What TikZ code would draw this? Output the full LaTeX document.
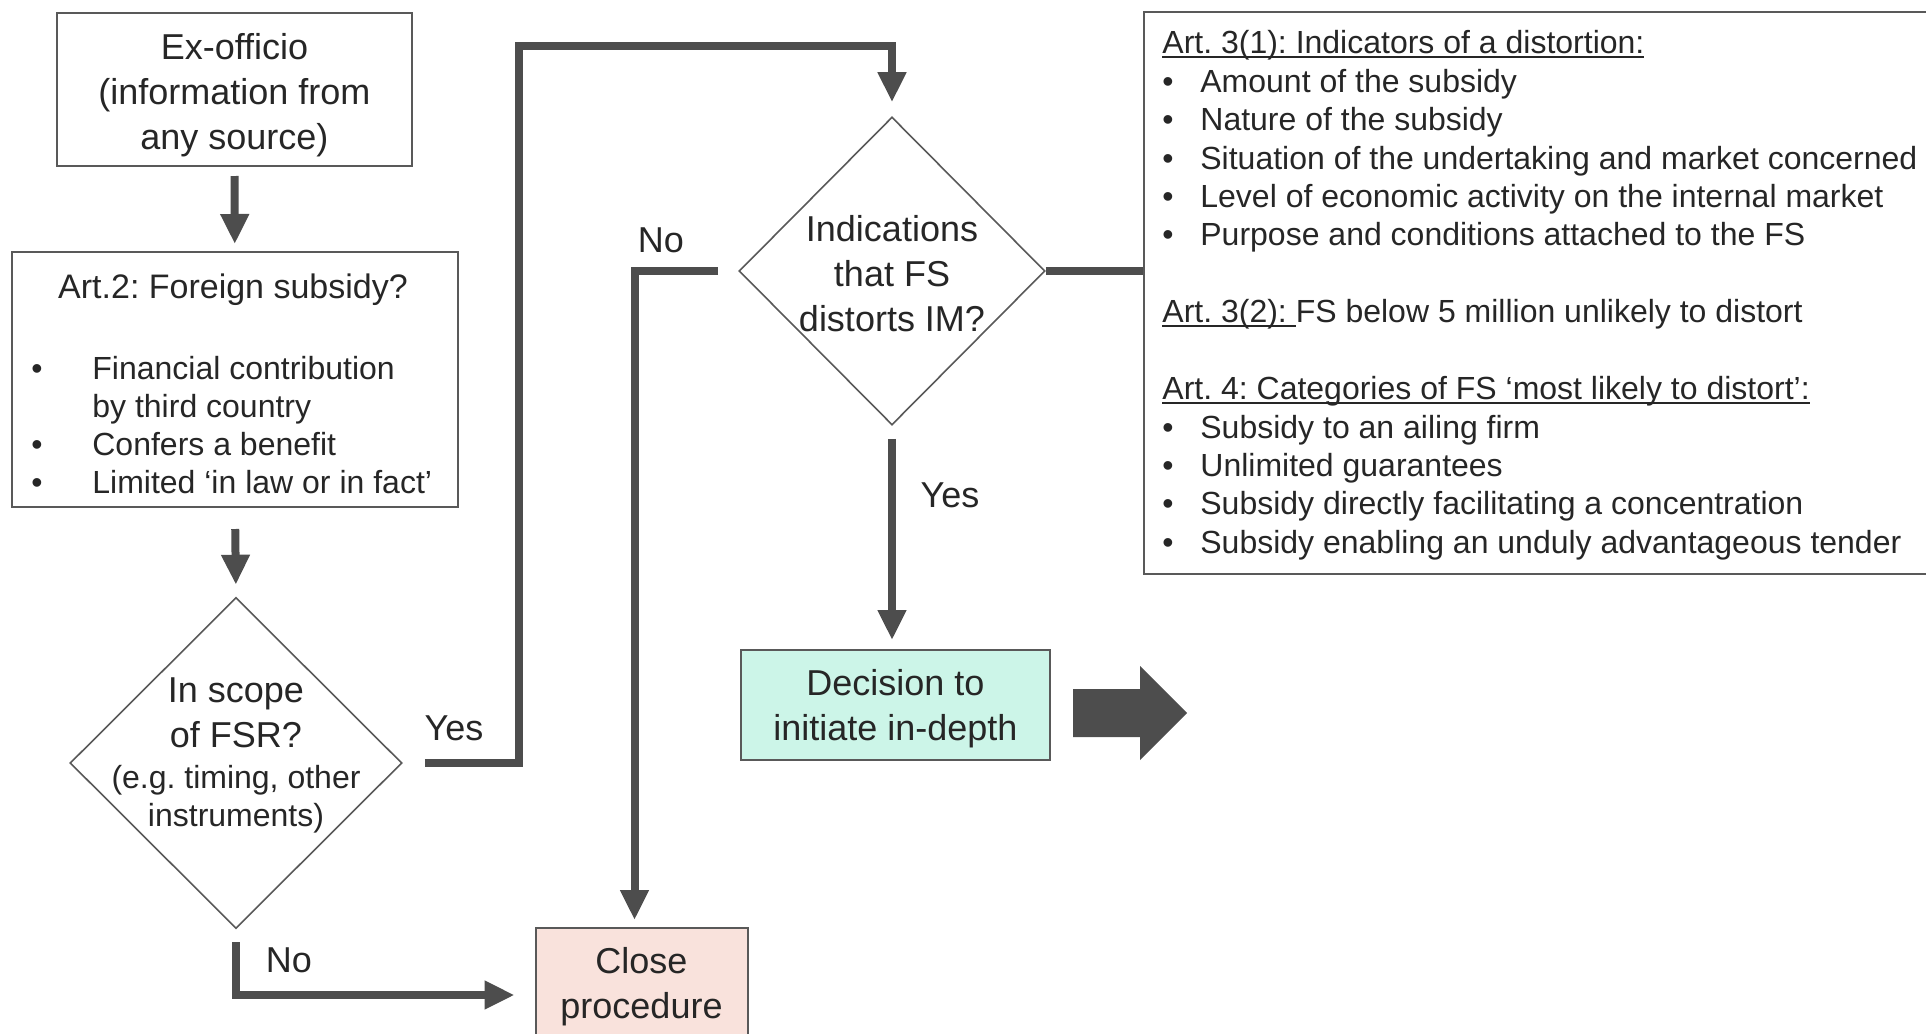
\documentclass[tikz,border=0pt]{standalone}
\usepackage{fontspec}
\setmainfont{Liberation Sans}
\usepackage{tikz}
\usetikzlibrary{arrows.meta, positioning, shapes.geometric}
\frenchspacing

\definecolor{linegray}{HTML}{4D4D4D}
\definecolor{boxgray}{HTML}{595959}
\definecolor{textgray}{HTML}{262626}
\definecolor{mint}{HTML}{CCF5E8}
\definecolor{blush}{HTML}{F9E2DC}

% underline close to the baseline, as in the slide
\newcommand{\artline}[1]{\setbox0=\hbox{#1}\rlap{\rule[-2pt]{\wd0}{1pt}}\box0}

\begin{document}
\begin{tikzpicture}[x=0.5pt, y=-0.5pt,
    every node/.style={text=textgray},
    box/.style={draw=boxgray, line width=1pt, inner sep=0pt},
    decision/.style={draw=boxgray, line width=0.8pt, diamond, inner sep=0pt},
    flow/.style={draw=linegray, line width=4pt, line join=miter, -{Triangle[length=15pt, width=13.5pt]}},
    link/.style={draw=linegray, line width=4pt},
    big/.style={font=\fontsize{18}{22.5}\selectfont},
    small/.style={font=\fontsize{16}{19}\selectfont}
]
\useasboundingbox (0,0) rectangle (1926,1033);

% Start of the procedure
\node[box, minimum width=177.5pt, minimum height=76.5pt] (exoff) at (234.5,89.5) {};
\node[big, align=center] (exofftext) at (234.5,95.5) {Ex-officio\\(information from\\any source)};

% Art. 2 check
\node[box, minimum width=223pt, minimum height=127.5pt] (art2) at (235,379.5) {};
\node[font=\fontsize{17}{20}\selectfont, anchor=base] (art2title) at (233,298) {Art.2: Foreign subsidy?};
\node[small, anchor=base west, inner sep=0pt] (art2list) at (31,379) {\begin{tabular}[t]{@{}p{30.5pt}@{}l@{}}
•&Financial contribution\\
&by third country\\
•&Confers a benefit\\
•&Limited ‘in law or in fact’
\end{tabular}};

% Scope decision
\node[decision, minimum width=166pt, minimum height=165.5pt] (scope) at (236,763) {};
\node[big, align=center] (scopeq) at (236,713) {In scope\\of FSR?};
\node[small, align=center] (scopeex) at (236,799) {(e.g. timing, other\\instruments)};

% Distortion decision
\node[decision, minimum width=153pt, minimum height=154pt] (distort) at (892,271) {};
\node[big, align=center] (distortq) at (892,274) {Indications\\that FS\\distorts IM?};

% Outcomes
\node[box, fill=mint, minimum width=154.5pt, minimum height=55pt] (indepth) at (895.5,705) {};
\node[big, align=center] (indepthtext) at (895.5,709) {Decision to\\initiate in-depth};
\node[box, big, align=center, fill=blush, minimum width=106pt, minimum height=59pt] (close) at (641.5,987) {Close\\procedure};

% Criteria of Art. 3 and 4
\node[box, minimum width=398pt, minimum height=281pt] (criteria) at (1542,293) {};
\node[font=\fontsize{16}{19.2}\selectfont, anchor=base west, inner sep=0pt] (criteriatext) at (1162,54) {\begin{tabular}[t]{@{}p{19pt}@{}l@{}}
\multicolumn{2}{@{}l@{}}{\artline{Art. 3(1): Indicators of a distortion:}}\\
•&Amount of the subsidy\\
•&Nature of the subsidy\\
•&Situation of the undertaking and market concerned\\
•&Level of economic activity on the internal market\\
•&Purpose and conditions attached to the FS\\
\\
\multicolumn{2}{@{}l@{}}{\artline{Art. 3(2):\ }FS below 5 million unlikely to distort}\\
\\
\multicolumn{2}{@{}l@{}}{\artline{Art. 4: Categories of FS ‘most likely to distort’:}}\\
•&Subsidy to an ailing firm\\
•&Unlimited guarantees\\
•&Subsidy directly facilitating a concentration\\
•&Subsidy enabling an unduly advantageous tender
\end{tabular}};

% Connectors
\draw[flow, shorten <=4.5pt, shorten >=3.5pt] (exoff) -- (art2);
\draw[flow, shorten <=10.5pt, shorten >=6pt] (art2.south) -- (scope.north);

\coordinate (yesturn) at (518.5,46);
\draw[flow, shorten <=11pt, shorten >=7pt] (scope.east) -| (yesturn) -| (distort.north);
\node[big] (yesscope) at (454,728) {Yes};

\draw[flow, shorten <=6.5pt, shorten >=10pt] (scope.south) |- ([yshift=-4pt]close.west);
\node[big] (noscope) at (289,960) {No};

\draw[flow, shorten <=10pt, shorten >=3.5pt] (distort.west) -| ([xshift=-3.5pt]close.north);
\node[big] (nodistort) at (661,240) {No};

\draw[flow, shorten <=6.5pt, shorten >=4.5pt] (distort.south) -- (distort.south |- indepth.north);
\node[big] (yesdistort) at (950,495) {Yes};

\draw[link] (distort.east) -- (distort.east -| criteria.west);

% Next step
\fill[linegray] (1073,689) -- (1140,689) -- (1140,666) -- (1187,713) -- (1140,760) -- (1140,737) -- (1073,737) -- cycle;

\end{tikzpicture}
\end{document}
